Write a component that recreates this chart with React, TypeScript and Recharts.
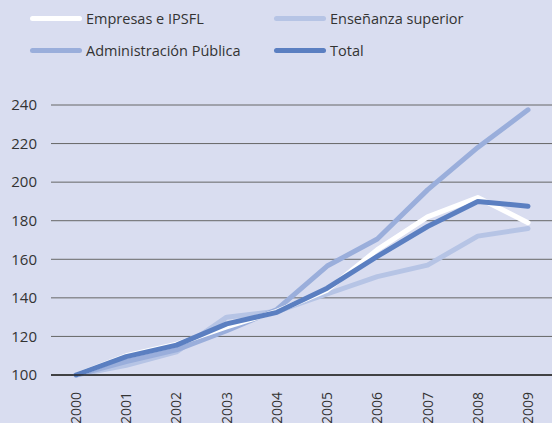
import { LineChart, Line, XAxis, YAxis, CartesianGrid } from 'recharts';

const YEARS = ['2000', '2001', '2002', '2003', '2004', '2005', '2006', '2007', '2008', '2009'];
const EMPRESAS = [100, 110, 116, 125, 133, 144, 165, 182, 192, 179];
const ENSENANZA = [100, 105, 112, 130, 133, 142, 151, 157, 172, 176];
const ADMINISTRACION = [100, 107, 113, 123, 134, 156.5, 170.5, 196, 218, 237.5];
const TOTAL = [100, 109.5, 115.5, 126.5, 132.5, 145, 161.5, 177, 190, 187.5];
const Y_TICKS = [100, 120, 140, 160, 180, 200, 220, 240];

const SERIES = [
  { key: 'ensenanza', name: 'Enseñanza superior', color: '#b6c4e5' },
  { key: 'administracion', name: 'Administración Pública', color: '#9aaedb' },
  { key: 'empresas', name: 'Empresas e IPSFL', color: '#ffffff' },
  { key: 'total', name: 'Total', color: '#5b7fc1' },
];

const LEGEND_ORDER = ['empresas', 'ensenanza', 'administracion', 'total'];

const data = YEARS.map((year, i) => ({
  year,
  empresas: EMPRESAS[i],
  ensenanza: ENSENANZA[i],
  administracion: ADMINISTRACION[i],
  total: TOTAL[i],
}));

const FONT = '"Open Sans", "Noto Sans", sans-serif';

function YearTick({ x, y, payload }: any) {
  return (
    <g transform={`translate(${x},${y + 9})`}>
      <text
        transform="rotate(-90)"
        textAnchor="end"
        dy={5}
        fill="#333"
        fontSize={14}
        fontFamily={FONT}
      >
        {payload.value}
      </text>
    </g>
  );
}

function LegendBox() {
  return (
    <div
      style={{
        position: 'absolute',
        top: 8,
        left: 30,
        display: 'grid',
        gridTemplateColumns: '244px 240px',
        rowGap: 12,
        fontFamily: FONT,
        fontSize: 14.5,
        color: '#333',
      }}
    >
      {LEGEND_ORDER.map((key) => {
        const s = SERIES.find((item) => item.key === key)!;
        return (
          <div key={key} style={{ display: 'flex', alignItems: 'center', height: 20 }}>
            <span
              style={{
                display: 'inline-block',
                width: 52,
                height: 5,
                borderRadius: 3,
                background: s.color,
                marginRight: 4,
              }}
            />
            {s.name}
          </div>
        );
      })}
    </div>
  );
}

export default function App() {
  return (
    <div
      style={{
        position: 'fixed',
        left: 0,
        top: 0,
        width: 552,
        height: 423,
        background: '#d9ddf0',
      }}
    >
      <LegendBox />
      <LineChart
        width={552}
        height={423}
        data={data}
        margin={{ top: 105, right: 0, left: 0, bottom: 0 }}
      >
        <CartesianGrid horizontal vertical={false} stroke="#666" strokeWidth={1} />
        <XAxis
          dataKey="year"
          height={48}
          padding={{ left: 25, right: 24 }}
          axisLine={{ stroke: '#222', strokeWidth: 1.5 }}
          tickLine={false}
          tick={<YearTick />}
          interval={0}
        />
        <YAxis
          width={51}
          domain={[100, 240]}
          ticks={Y_TICKS}
          axisLine={false}
          tickLine={false}
          tickMargin={8}
          tick={{ fill: '#333', fontSize: 15, fontFamily: FONT }}
        />
        {SERIES.map((s) => (
          <Line
            key={s.key}
            dataKey={s.key}
            name={s.name}
            stroke={s.color}
            strokeWidth={5}
            strokeLinecap="round"
            strokeLinejoin="round"
            dot={false}
            activeDot={false}
            type="linear"
            isAnimationActive={false}
          />
        ))}
      </LineChart>
    </div>
  );
}
